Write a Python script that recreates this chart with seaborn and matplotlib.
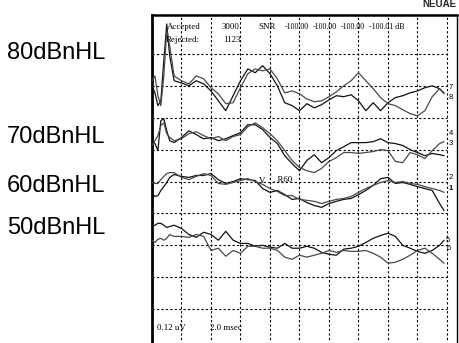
import pandas as pd
import matplotlib
matplotlib.use("Agg")
import matplotlib.pyplot as plt
import seaborn as sns

# Sweep time base (msec), shared by every trace
time_ms = [0.0, 0.2, 0.4, 0.6, 0.8, 1.0, 1.2, 1.5,
           2.0, 2.5, 3.0, 3.5, 4.0, 4.5, 5.0, 5.5, 6.0, 6.5, 7.0, 7.5, 8.0, 8.5, 9.0, 9.5, 10.0,
           10.5, 11.0, 11.5, 12.0, 12.5, 13.0, 13.5, 14.0, 14.5, 15.0, 15.5, 16.0, 16.5, 17.0,
           17.5, 18.0, 18.5, 19.0, 19.5, 19.8]

# Trace amplitudes (grid divisions, 0.12 uV each, from the bottom)
db80_a = [8.0, 7.78, 7.38, 7.53, 8.78, 9.94, 8.94, 8.16,
          8.09, 8.0, 8.16, 8.06, 7.84, 7.53, 7.22, 7.69, 8.16, 8.53, 8.41, 8.63, 8.38, 8.0, 7.47, 7.38, 7.22,
          7.44, 7.31, 7.41, 7.56, 7.69, 7.66, 7.72, 7.53, 7.22, 7.47, 7.22, 7.47, 7.63, 7.69, 7.78, 7.84, 7.94, 8.0, 7.91, 7.78]
db80_b = [8.16, 8.31, 7.69, 7.38, 8.31, 9.72, 9.25, 8.31,
          8.16, 8.06, 8.31, 8.22, 7.94, 7.75, 7.44, 7.47, 7.94, 8.38, 8.53, 8.47, 8.53, 8.22, 7.78, 7.84, 7.75,
          7.59, 7.5, 7.53, 7.66, 7.81, 8.0, 8.16, 8.41, 8.16, 7.91, 7.63, 7.44, 7.38, 7.25, 7.13, 7.06, 7.22, 7.66, 7.91, 7.75]
db70_a = [6.28, 6.19, 5.97, 6.91, 6.97, 6.59, 6.28, 6.22,
          6.38, 6.59, 6.47, 6.34, 6.38, 6.28, 6.34, 6.44, 6.53, 6.78, 6.78, 6.63, 6.38, 6.19, 5.81, 5.56, 5.34,
          5.66, 5.84, 5.59, 5.75, 5.97, 6.09, 6.22, 6.22, 6.22, 6.25, 6.34, 6.22, 6.19, 6.13, 6.0, 5.91, 5.81, 5.88, 5.84, 5.81]
db70_b = [6.13, 6.28, 6.44, 6.75, 6.84, 6.5, 6.38, 6.28,
          6.34, 6.5, 6.56, 6.44, 6.34, 6.41, 6.28, 6.41, 6.47, 6.72, 6.84, 6.69, 6.5, 6.28, 5.97, 5.66, 5.44,
          5.34, 5.28, 5.41, 5.63, 5.75, 5.91, 5.91, 5.88, 5.91, 5.94, 6.0, 5.97, 5.63, 5.59, 5.91, 5.84, 5.72, 5.97, 6.19, 6.25]
db60_a = [4.63, 4.53, 4.56, 4.72, 4.84, 4.97, 5.13, 5.22,
          5.16, 5.13, 5.19, 5.19, 5.25, 5.06, 4.94, 5.0, 5.09, 5.06, 5.03, 4.78, 4.66, 4.72, 4.59, 4.44, 4.47,
          4.34, 4.25, 4.19, 4.31, 4.38, 4.44, 4.47, 4.59, 4.72, 4.88, 5.09, 5.13, 4.94, 4.97, 4.91, 4.84, 4.78, 4.72, 4.31, 4.09]
db60_b = [4.97, 4.94, 4.94, 5.06, 5.16, 5.25, 5.28, 5.28,
          5.13, 5.06, 5.16, 5.25, 5.19, 4.94, 4.91, 4.97, 5.03, 5.09, 5.0, 4.91, 4.78, 4.69, 4.56, 4.56, 4.44,
          4.41, 4.38, 4.31, 4.38, 4.44, 4.47, 4.53, 4.66, 4.78, 4.88, 4.97, 5.03, 4.97, 5.0, 4.94, 4.91, 4.84, 4.78, 4.72, 4.66]
db50_a = [3.59, 3.63, 3.69, 3.69, 3.63, 3.56, 3.59, 3.63,
          3.53, 3.34, 3.25, 3.41, 3.34, 3.16, 3.44, 3.16, 3.06, 3.06, 2.97, 3.0, 2.94, 2.91, 3.06, 2.91, 2.91,
          2.97, 2.91, 2.78, 2.72, 2.69, 2.88, 2.91, 2.97, 3.09, 3.22, 3.31, 3.38, 3.28, 3.0, 2.91, 2.81, 2.75, 2.84, 3.0, 3.16]
db50_b = [3.16, 3.09, 3.19, 3.22, 3.16, 3.22, 3.34, 3.28,
          3.28, 3.25, 3.34, 3.28, 2.84, 2.91, 2.66, 2.84, 2.75, 2.97, 2.97, 2.91, 2.91, 2.84, 2.63, 2.56, 2.69,
          2.63, 2.69, 2.75, 2.84, 2.78, 2.84, 2.81, 2.81, 2.84, 2.75, 2.63, 2.44, 2.47, 2.56, 2.69, 2.84, 2.91, 2.75, 2.56, 2.44]

level_labels = ["80dBnHL", "70dBnHL", "60dBnHL", "50dBnHL"]
sweep_numbers = ["7", "8", "4", "3", "2", "1", "5", "6"]
snr_values = ["-100.00", "-100.00", "-100.00", "-100.01 dB"]

traces = {"80a": db80_a, "80b": db80_b, "70a": db70_a, "70b": db70_b,
          "60a": db60_a, "60b": db60_b, "50a": db50_a, "50b": db50_b}

rows = []
for name, vals in traces.items():
    for t, v in zip(time_ms, vals):
        rows.append({"time": t, "amp": v, "trace": name})
df = pd.DataFrame(rows)

sns.set_style("white")
plt.rcParams["font.family"] = ["Liberation Sans", "DejaVu Sans"]

fig = plt.figure(figsize=(4.6, 3.43), dpi=100)
ax = fig.add_axes([152 / 460, 1 / 343, 305 / 460, 327 / 343])

# dashed grid, 2.0 msec x 0.12 uV per division
for gx in range(2, 21, 2):
    ax.plot([gx, gx], [-0.1, 10.2], color="black", lw=0.8, ls=(0, (2, 2)), zorder=1)
for gy in range(1, 10):
    ax.plot([0, 20], [gy, gy], color="black", lw=0.8, ls=(0, (2, 2)), zorder=1)

palette = {"80a": "#111111", "80b": "#4a4a4a", "70a": "#111111", "70b": "#4a4a4a",
           "60a": "#111111", "60b": "#4a4a4a", "50a": "#111111", "50b": "#4a4a4a"}
sns.lineplot(data=df, x="time", y="amp", hue="trace", palette=palette, estimator=None,
             sort=False, legend=False, lw=0.9, ax=ax, zorder=3)

ax.set_xlim(0, 20.68)
ax.set_ylim(-0.03, 10.22)
ax.set_xticks([])
ax.set_yticks([])
ax.set_xlabel("")
ax.set_ylabel("")
ax.spines["bottom"].set_visible(False)
ax.spines["left"].set_linewidth(2.0)
ax.spines["top"].set_linewidth(1.8)
ax.spines["right"].set_linewidth(1.0)
for side in ["left", "top", "right"]:
    ax.spines[side].set_color("black")

small = dict(family=["Liberation Serif", "DejaVu Serif"], fontsize=6.4, color="black", va="center")
ax.text(1.0, 9.84, "Accepted", **small)
ax.text(4.75, 9.84, "3000", **small)
ax.text(7.2, 9.84, "SNR", **small)
for i, s in enumerate(snr_values):
    ax.text(9.0 + i * 1.9, 9.84, s, **dict(small, fontsize=5.8))
ax.text(0.9, 9.44, "Rejected:", **small)
ax.text(4.8, 9.44, "1123", **small)
ax.text(7.46, 5.03, "V", ha="center", **small)
ax.text(8.2, 5.05, ". R60", **small)
ax.text(0.34, 0.41, "0.12 uV", **small)
ax.text(3.93, 0.41, "2.0 msec", **small)

# sweep numbers at the right end
num_pos = [(20.1, 7.94), (20.1, 7.63), (20.1, 6.5), (20.1, 6.19),
           (20.1, 5.13), (20.1, 4.78), (19.95, 3.16), (19.95, 2.91)]
for lab, (x, y) in zip(sweep_numbers, num_pos):
    ax.text(x, y, lab, fontsize=5.5, ha="left", va="center", color="black",
            fontweight="bold" if lab == "1" else "normal")

fig.text(422 / 460, 1 - 4 / 343, "NEUAE", fontsize=7, fontweight="bold", va="center", ha="left")

label_y = [53, 137, 186, 228]
for lab, py in zip(level_labels, label_y):
    fig.text(7 / 460, 1 - py / 343, lab, fontsize=17, ha="left", va="center", color="black")

plt.savefig("out.png", dpi=100)
plt.close()
